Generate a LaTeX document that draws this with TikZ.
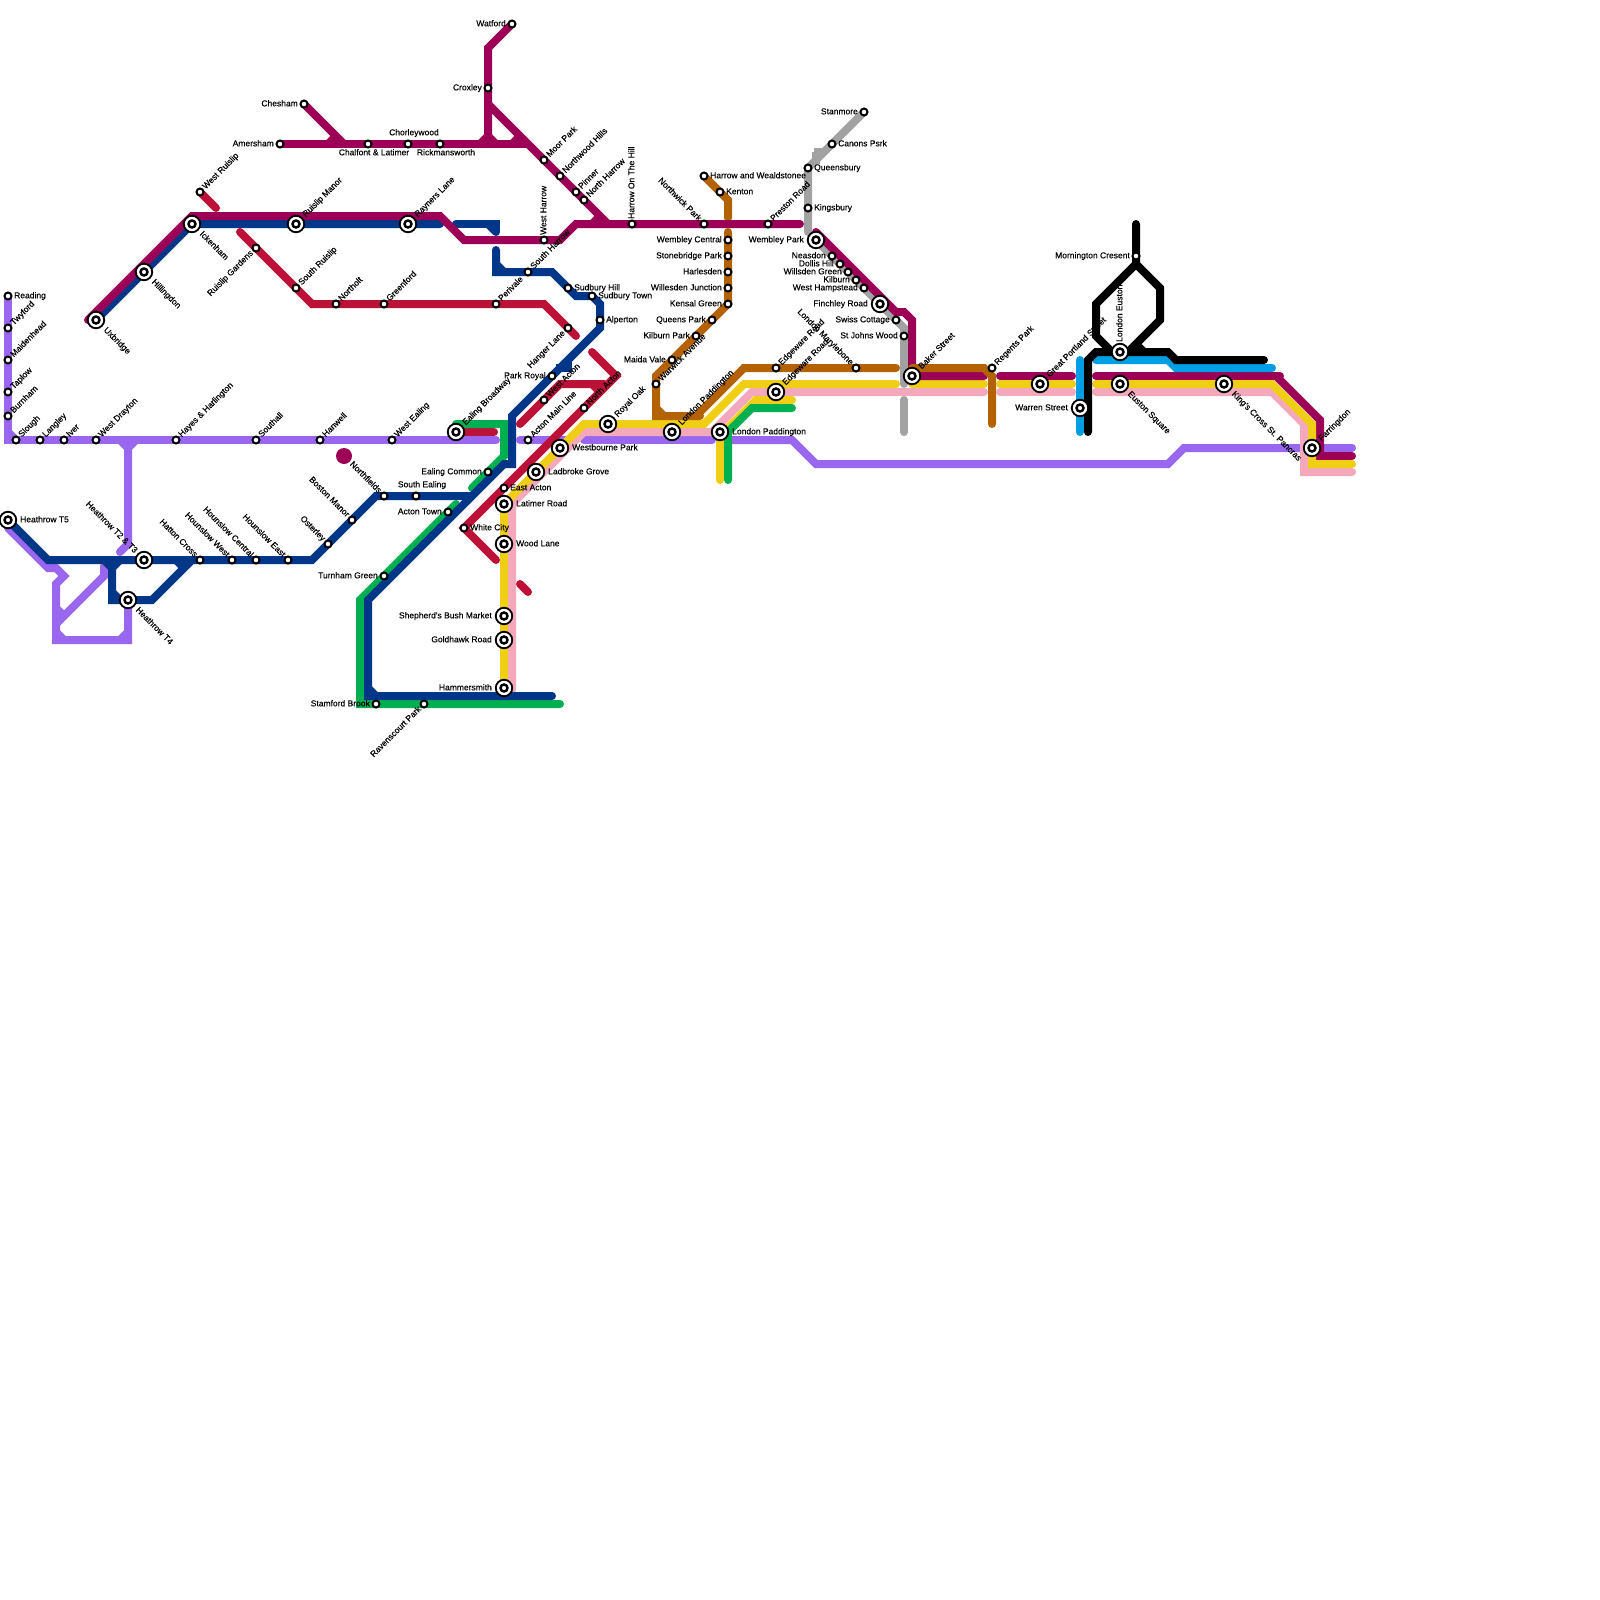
\documentclass[tikz,border=0pt]{standalone}
\usepackage{fontspec}
\setmainfont{Liberation Sans}
\newfontfamily\lblfont[FakeBold=0.2]{Liberation Sans}
\pgfdeclarelayer{lines}
\pgfdeclarelayer{labels}
\pgfdeclarelayer{toplines}
\pgfsetlayers{lines,labels,toplines,main}
\definecolor{cpurple}{HTML}{9966EE}
\definecolor{cpink}{HTML}{F3A9BB}
\definecolor{cyellow}{HTML}{F0CE15}
\definecolor{cbrown}{HTML}{B36305}
\definecolor{cgray}{HTML}{A2A2A2}
\definecolor{ccyan}{HTML}{009FE3}
\definecolor{cred}{HTML}{BC1238}
\definecolor{cgreen}{HTML}{00B050}
\definecolor{cblue}{HTML}{003688}
\definecolor{cmag}{HTML}{9B0056}
\tikzset{
  x=1pt,y=-1pt,
  track/.style={line width=8pt,line cap=round,line join=miter,miter limit=4},
  smallst/.style={circle,draw=black,fill=white,line width=2pt,minimum size=7pt,inner sep=0pt},
  bigst/.style={circle,draw=black,fill=white,line width=1.8pt,minimum size=16.5pt,inner sep=0pt},
  bigin/.style={circle,draw=black,fill=white,line width=2.4pt,minimum size=7pt,inner sep=0pt},
  lbl/.style={font=\lblfont\fontsize{8.5pt}{9pt}\selectfont,text=black,inner sep=0pt,text height=6.2pt,text depth=1.6pt},
  lblNE/.style={rotate=45,anchor=west},
  lblNW/.style={rotate=-45,anchor=east},
  lblSE/.style={rotate=-45,anchor=west},
  lblSW/.style={rotate=45,anchor=east},
  lblR/.style={anchor=west},
  lblL/.style={anchor=east},
  lblN/.style={rotate=90,anchor=west},
  lblA/.style={anchor=center},
  lblB/.style={anchor=center},
}
\def\dxNE{4}\def\dyNE{-4}
\def\dxNW{-4}\def\dyNW{-4}
\def\dxSE{4.4}\def\dySE{4.4}
\def\dxSW{-4}\def\dySW{4}
\def\dxR{6}\def\dyR{0}
\def\dxL{-6}\def\dyL{0}
\def\dxN{0}\def\dyN{-5}
\def\dxA{6}\def\dyA{-11}
\def\dxB{6}\def\dyB{9}
\newcommand{\placelbl}[4]{%
  \begin{pgfonlayer}{labels}
  \node[lbl,lbl#2] (#1-t) at ([shift={({\csname dx#2\endcsname*#3},{\csname dy#2\endcsname*#3})}]#1.center) {#4};
  \end{pgfonlayer}}
\newcommand{\sts}[5]{\node[smallst] (#1) at (#2,#3) {};\placelbl{#1}{#4}{1}{#5}}
\newcommand{\stb}[5]{\node[bigst] (#1) at (#2,#3) {};\node[bigin] (#1-in) at (#2,#3) {};\placelbl{#1}{#4}{2}{#5}}
\begin{document}
\begin{tikzpicture}
\useasboundingbox (0,0) rectangle (1600,1600);
\begin{pgfonlayer}{lines}
\fill[white] (0,0) rectangle (1600,1600);
% purple
\draw[track,cpurple] (8,296)--(8,440)--(496,440);
\draw[track,cpurple,line cap=butt] (8,432)--(16,440);
\draw[track,cpurple,line cap=butt] (120,440)--(128,448)--(136,440);
\draw[track,cpurple] (128,440)--(128,544)--(120,552);
\draw[track,cpurple] (128,600)--(128,640)--(56,640)--(56,584)--(64,576)--(56,568)--(48,568)--(8,528);
\draw[track,cpurple] (56,624)--(104,576)--(104,566);
\draw[track,cpurple,line cap=butt] (56,632)--(64,640);
\draw[track,cpurple,line cap=butt] (120,640)--(128,632);
\draw[track,cpurple,line cap=butt] (56,608)--(64,616);
\draw[track,cpurple] (520,440)--(566,440);
\draw[track,cpurple] (584,440)--(712,440);
\draw[track,cpurple] (732,440)--(792,440)--(816,464)--(1168,464)--(1184,448)--(1352,448);
% pink
\draw[track,cpink] (512,690)--(512,504)--(584,432)--(712,432)--(752,392)--(984,392);
\draw[track,cpink] (1000,392)--(1072,392);
\draw[track,cpink] (1096,392)--(1272,392)--(1304,424)--(1304,472)--(1352,472);
% yellow
\draw[track,cyellow] (504,688)--(504,504)--(584,424)--(704,424)--(744,384)--(896,384);
\draw[track,cyellow] (912,384)--(984,384);
\draw[track,cyellow] (1000,384)--(1072,384);
\draw[track,cyellow] (720,480)--(720,436)--(756,400)--(792,400);
% brown
\draw[track,cbrown] (704,176)--(728,200)--(728,218);
\draw[track,cbrown] (728,232)--(728,304)--(656,376)--(656,416)--(700,416);
\draw[track,cbrown,line cap=butt] (656,408)--(664,416);
\draw[track,cbrown] (696,416)--(744,368)--(896,368);
% red
\draw[track,cred] (200,192)--(216,208);
\draw[track,cred] (240,232)--(312,304)--(544,304)--(576,336);
\draw[track,cred] (520,424)--(560,384)--(604,384);
\draw[track,cred] (592,352)--(616,376)--(464,528)--(496,560);
\draw[track,cred,line cap=butt] (592,384)--(600,392);
\draw[track,cred] (520,584)--(528,592);
\draw[track,cred] (456,432)--(494,432);
% green
\draw[track,cgreen] (456,424)--(504,424)--(504,456)--(472,488);
\draw[track,cgreen] (456,504)--(360,600)--(360,704)--(560,704);
\draw[track,cgreen] (728,480)--(728,432)--(752,408)--(792,408);
% gray
\draw[track,cgray] (864,112)--(808,168)--(808,232);
\draw[track,cgray,line cap=butt] (816,152)--(816,164);
\draw[track,cgray,line cap=butt] (814,152)--(826,152);
\draw[track,cgray] (816,240)--(896,320)--(904,328)--(904,384);
\draw[track,cgray] (904,400)--(904,432);
% blue
\draw[track,cblue] (8,520)--(48,560)--(312,560)--(376,496)--(472,496);
\draw[track,cblue] (112,560)--(112,600)--(152,600)--(192,560);
\draw[track,cblue,line cap=butt] (104,560)--(112,568)--(120,560);
\draw[track,cblue,line cap=butt] (112,592)--(120,600);
\draw[track,cblue,line cap=butt] (176,560)--(184,568);
\draw[track,cblue] (96,320)--(192,224)--(440,224);
\draw[track,cblue] (456,224)--(496,224)--(496,232);
\draw[track,cblue,line cap=butt] (488,224)--(496,232);
\draw[track,cblue] (496,250)--(496,272)--(552,272)--(576,296)--(592,296)--(600,304)--(600,328)--(512,416)--(512,464)--(504,464)--(368,600)--(368,696)--(552,696);
\draw[track,cblue,line cap=butt] (496,264)--(504,272);
\draw[track,cblue,line cap=butt] (368,688)--(376,696);
\draw[track,cblue,line cap=butt] (568,360)--(568,368)--(556,368);
% magenta
\draw[track,cmag] (280,144)--(528,144);
\draw[track,cmag] (304,104)--(344,144);
\draw[track,cmag,line cap=butt] (328,144)--(336,136);
\draw[track,cmag] (512,24)--(488,48)--(488,136)--(480,144);
\draw[track,cmag,line cap=butt] (488,136)--(496,144);
\draw[track,cmag] (488,104)--(608,224);
\draw[track,cmag,line cap=butt] (512,144)--(520,136);
\draw[track,cmag] (88,320)--(192,216)--(440,216)--(464,240)--(560,240)--(576,224)--(800,224);
\draw[track,cmag,line cap=butt] (592,224)--(600,216);
\draw[track,cmag] (816,232)--(896,312)--(904,312)--(912,320)--(912,376)--(984,376);
\draw[track,cmag] (1000,376)--(1072,376);
\draw[track,cmag] (1096,376)--(1280,376);
\draw[track,cmag] (1276,376)--(1320,420)--(1320,456)--(1352,456);
% yellow and brown pieces that lie on top of the magenta
\draw[track,cyellow] (1096,384)--(1272,384)--(1312,424)--(1312,464)--(1352,464);
\draw[track,cbrown] (912,368)--(984,368)--(992,376)--(992,424);
\node[circle,fill=cmag,minimum size=16pt,inner sep=0pt] (northdot) at (344,456) {};
\end{pgfonlayer}
\begin{pgfonlayer}{toplines}
\draw[track,ccyan] (1080,360)--(1080,432);
\draw[track,ccyan] (1096,360)--(1168,360)--(1176,368)--(1272,368);
\draw[track,black] (1136,224)--(1136,264)--(1096,304)--(1096,336)--(1112,352);
\draw[track,black] (1136,264)--(1160,288)--(1160,320)--(1128,352);
\draw[track,black] (1088,432)--(1088,360)--(1096,352)--(1168,352)--(1176,360)--(1264,360);
\draw[track,black,line cap=butt] (1136,344)--(1144,352);
\end{pgfonlayer}
% small stations
\sts{reading}{8}{296}{R}{Reading}
\sts{twyford}{8}{328}{NE}{Twyford}
\sts{maidenhead}{8}{360}{NE}{Maidenhead}
\sts{taplow}{8}{392}{NE}{Taplow}
\sts{burnham}{8}{416}{NE}{Burnham}
\sts{slough}{16}{440}{NE}{Slough}
\sts{langley}{40}{440}{NE}{Langley}
\sts{iver}{64}{440}{NE}{Iver}
\sts{westdrayton}{96}{440}{NE}{West Drayton}
\sts{hayes}{176}{440}{NE}{Hayes \& Harlington}
\sts{southall}{256}{440}{NE}{Southall}
\sts{hanwell}{320}{440}{NE}{Hanwell}
\sts{westealing}{392}{440}{NE}{West Ealing}
\sts{westruislip}{200}{192}{NE}{West Ruislip}
\sts{ruislipgardens}{256}{248}{SW}{Ruislip Gardens}
\sts{southruislip}{296}{288}{NE}{South Ruislip}
\sts{northolt}{336}{304}{NE}{Northolt}
\sts{greenford}{384}{304}{NE}{Greenford}
\sts{perivale}{496}{304}{NE}{Perivale}
\sts{southharrow}{528}{272}{NE}{South Harrow}
\sts{amersham}{280}{144}{L}{Amersham}
\sts{chesham}{304}{104}{L}{Chesham}
\sts{chalfont}{368}{144}{B}{Chalfont \& Latimer}
\sts{chorleywood}{408}{144}{A}{Chorleywood}
\sts{rickmansworth}{440}{144}{B}{Rickmansworth}
\sts{watford}{512}{24}{L}{Watford}
\sts{croxley}{488}{88}{L}{Croxley}
\sts{moorpark}{544}{160}{NE}{Moor Park}
\sts{northwood}{560}{176}{NE}{Northwood Hills}
\sts{pinner}{576}{192}{NE}{Pinner}
\sts{northharrow}{584}{200}{NE}{North Harrow}
\sts{westharrow}{544}{240}{N}{West Harrow}
\sts{harrowhill}{632}{224}{N}{Harrow On The Hill}
\sts{northwick}{704}{224}{NW}{Northwick Park}
\sts{preston}{768}{224}{NE}{Preston Road}
\sts{wealdstone}{704}{176}{R}{Harrow and Wealdstonee}
\sts{kenton}{720}{192}{R}{Kenton}
\sts{wembleyc}{728}{240}{L}{Wembley Central}
\sts{stonebridge}{728}{256}{L}{Stonebridge Park}
\sts{harlesden}{728}{272}{L}{Harlesden}
\sts{willesdenj}{728}{288}{L}{Willesden Junction}
\sts{kensal}{728}{304}{L}{Kensal Green}
\sts{queenspark}{712}{320}{L}{Queens Park}
\sts{kilburnpark}{696}{336}{L}{Kilburn Park}
\sts{maidavale}{672}{360}{L}{Maida Vale}
\sts{warwick}{656}{384}{NE}{Warwick Avenue}
\sts{sudburyhill}{568}{288}{R}{Sudbury Hill}
\sts{sudburytown}{592}{296}{R}{Sudbury Town}
\sts{alperton}{600}{320}{R}{Alperton}
\sts{hanger}{568}{328}{SW}{Hanger Lane}
\sts{parkroyal}{552}{376}{L}{Park Royal}
\sts{westacton}{544}{400}{NE}{West Acton}
\sts{northacton}{584}{408}{NE}{North Acton}
\sts{actonmain}{528}{440}{NE}{Acton Main Line}
\sts{ealingcommon}{488}{472}{L}{Ealing Common}
\sts{eastacton}{504}{488}{R}{East Acton}
\sts{southealing}{416}{496}{A}{South Ealing}
\sts{actontown}{448}{512}{L}{Acton Town}
\sts{whitecity}{464}{528}{R}{White City}
\sts{northfields}{384}{496}{NW}{Northfields}
\sts{bostonmanor}{352}{520}{NW}{Boston Manor}
\sts{osterley}{328}{544}{NW}{Osterley}
\sts{hounslowe}{288}{560}{NW}{Hounslow East}
\sts{hounslowc}{256}{560}{NW}{Hounslow Central}
\sts{hounsloww}{232}{560}{NW}{Hounslow West}
\sts{hatton}{200}{560}{NW}{Hatton Cross}
\sts{turnham}{384}{576}{L}{Turnham Green}
\sts{stamford}{376}{704}{L}{Stamford Brook}
\sts{ravenscourt}{424}{704}{SW}{Ravenscourt Park}
\sts{edgeware}{776}{368}{NE}{Edgeware Road}
\sts{marylebone}{856}{368}{NW}{London Marylebone}
\sts{queensbury}{808}{168}{R}{Queensbury}
\sts{kingsbury}{808}{208}{R}{Kingsbury}
\sts{canons}{832}{144}{R}{Canons Psrk}
\sts{stanmore}{864}{112}{L}{Stanmore}
\sts{neasdon}{832}{256}{L}{Neasdon}
\sts{dollis}{840}{264}{L}{Dollis Hill}
\sts{willsden}{848}{272}{L}{Willsden Green}
\sts{kilburn}{856}{280}{L}{Kilburn}
\sts{westhamp}{864}{288}{L}{West Hampstead}
\sts{swiss}{896}{320}{L}{Swiss Cottage}
\sts{stjohns}{904}{336}{L}{St Johns Wood}
\sts{regents}{992}{368}{NE}{Regents Park}
\sts{mornington}{1136}{256}{L}{Mornington Cresent}
% interchanges
\stb{t5}{8}{520}{R}{Heathrow T5}
\stb{uxbridge}{96}{320}{SE}{Uxbridge}
\stb{hillingdon}{144}{272}{SE}{Hillingdon}
\stb{ickenham}{192}{224}{SE}{Ickenham}
\stb{ruislipmanor}{296}{224}{NE}{Ruislip Manor}
\stb{rayners}{408}{224}{NE}{Rayners Lane}
\stb{t23}{144}{560}{NW}{Heathrow T2 \& T3}
\stb{t4}{128}{600}{SE}{Heathrow T4}
\stb{ealingb}{456}{432}{NE}{Ealing Broadway}
\stb{latimer}{504}{504}{R}{Latimer Road}
\stb{ladbroke}{536}{472}{R}{Ladbroke Grove}
\stb{westbourne}{560}{448}{R}{Westbourne Park}
\stb{royaloak}{608}{424}{NE}{Royal Oak}
\stb{paddingtonA}{672}{432}{NE}{London Paddington}
\stb{paddingtonB}{720}{432}{R}{London Paddington}
\stb{woodlane}{504}{544}{R}{Wood Lane}
\stb{shepherds}{504}{616}{L}{Shepherd's Bush Market}
\stb{goldhawk}{504}{640}{L}{Goldhawk Road}
\stb{hammersmith}{504}{688}{L}{Hammersmith}
\stb{edgewareB}{776}{392}{NE}{Edgeware Road}
\stb{wembleyp}{816}{240}{L}{Wembley Park}
\stb{finchley}{880}{304}{L}{Finchley Road}
\stb{baker}{912}{376}{NE}{Baker Street}
\stb{portland}{1040}{384}{NE}{Great Portland Street}
\stb{warren}{1080}{408}{L}{Warren Street}
\stb{euston}{1120}{352}{N}{London Euston}
\stb{eustonsq}{1120}{384}{SE}{Euston Square}
\stb{kingscross}{1224}{384}{SE}{King's Cross St. Pancras}
\stb{farringdon}{1312}{448}{NE}{Farringdon}
\end{tikzpicture}
\end{document}
